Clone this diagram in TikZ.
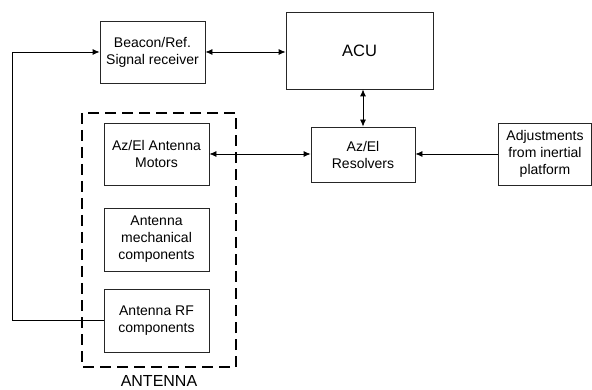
\documentclass[tikz,border=0pt]{standalone}
\usepackage{fontspec}
\setmainfont{Liberation Sans}
\usepackage{tikz}
\usetikzlibrary{arrows.meta,positioning,calc}

\begin{document}
\begin{tikzpicture}[x=1pt, y=-1pt,
    blk/.style={draw=black!85, line width=0.8pt, align=center, inner sep=2pt,
        font=\fontsize{14}{17}\selectfont},
    arr/.style={line width=0.8pt, -{Latex[length=7pt,width=6pt]}},
    dblarr/.style={line width=0.8pt, {Latex[length=7pt,width=6pt]}-{Latex[length=7pt,width=6pt]}}]
    \useasboundingbox (0,0) rectangle (592,390);

    % Boxes
    \node[blk, minimum width=105pt, minimum height=62pt] (beacon) at (152.5,52) {Beacon/Ref.\\Signal receiver};
    \node[blk, minimum width=147pt, minimum height=77pt, font=\fontsize{16.5}{20}\selectfont] (acu) at (359.5,50.5) {ACU};
    \node[blk, minimum width=104pt, minimum height=55pt] (res) at (363,154.5) {Az/El\\Resolvers};
    \node[blk, minimum width=93pt, minimum height=62pt] (adj) at (545,154) {Adjustments\\from inertial\\platform};

    % Antenna group
    \node[blk, minimum width=105pt, minimum height=62pt] (motors) at (156.5,154) {Az/El Antenna\\Motors};
    \node[blk, minimum width=105pt, minimum height=63pt] (mech) at (156.5,239.5) {Antenna\\mechanical\\components};
    \node[blk, minimum width=105pt, minimum height=63pt] (rf) at (156.5,320.5) {Antenna RF\\components};
    \draw[line width=2.4pt, dash pattern=on 11pt off 6pt] (82,113) rectangle (236,367);
    \node[font=\fontsize{16}{19}\selectfont] (antlbl) at (159,381) {ANTENNA};

    % Connections
    \draw[arr] (rf.west) -- ++(-91,0) |- (beacon.west);
    \draw[dblarr] (beacon.east) -- (beacon.east -| acu.west);
    \draw[dblarr] (res.north |- acu.south) -- (res.north);
    \draw[dblarr] (motors.east) -- (motors.east -| res.west);
    \draw[arr] (adj.west) -- (adj.west -| res.east);
\end{tikzpicture}
\end{document}
